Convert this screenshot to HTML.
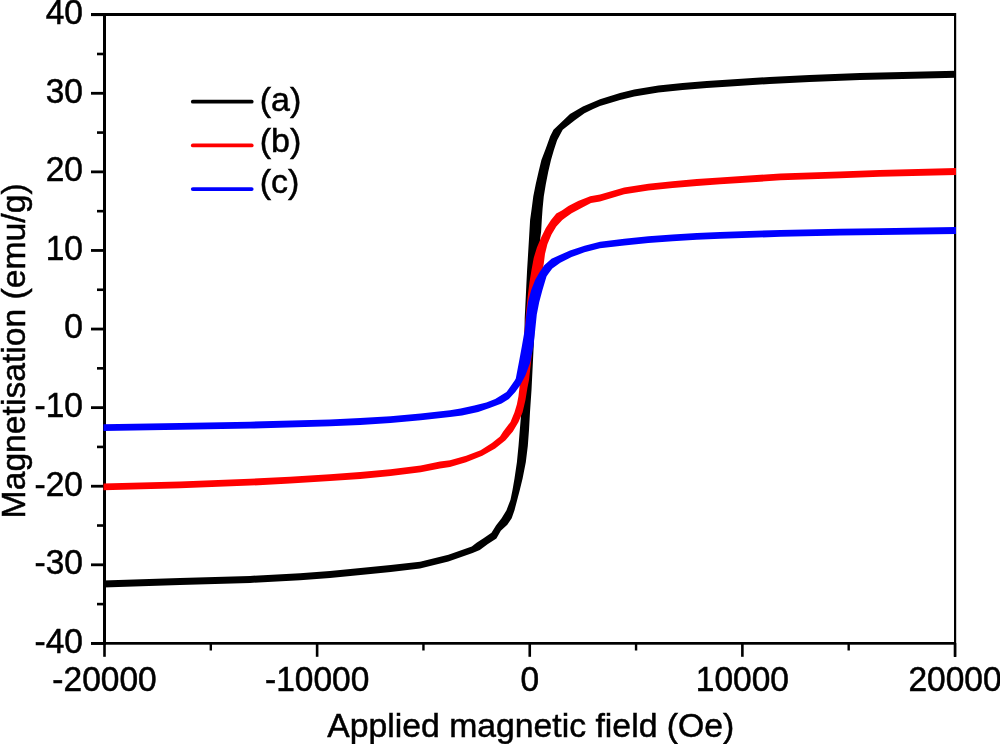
<!DOCTYPE html><html><head><meta charset="utf-8"><title>Magnetisation</title><style>html,body{margin:0;padding:0;background:#fff}svg{display:block}text{font-family:"Liberation Sans",Arial,sans-serif;fill:#000;stroke:#000;stroke-width:0.5px}</style></head><body>
<svg width="1000" height="744" viewBox="0 0 1000 744">
<rect width="1000" height="744" fill="#fff"/>
<g fill="#000">
<rect x="91" y="13" width="865" height="3"/>
<rect x="103" y="13" width="3" height="632"/>
<rect x="954" y="13" width="2.2" height="644"/>
<rect x="91" y="642" width="865" height="2.7"/>
<rect x="91" y="642.00" width="13" height="2.8"/>
<rect x="97" y="602.81" width="7" height="2.6"/>
<rect x="91" y="563.41" width="13" height="2.8"/>
<rect x="97" y="524.22" width="7" height="2.6"/>
<rect x="91" y="484.82" width="13" height="2.8"/>
<rect x="97" y="445.63" width="7" height="2.6"/>
<rect x="91" y="406.24" width="13" height="2.8"/>
<rect x="97" y="367.04" width="7" height="2.6"/>
<rect x="91" y="327.65" width="13" height="2.8"/>
<rect x="97" y="288.46" width="7" height="2.6"/>
<rect x="91" y="249.06" width="13" height="2.8"/>
<rect x="97" y="209.87" width="7" height="2.6"/>
<rect x="91" y="170.47" width="13" height="2.8"/>
<rect x="97" y="131.28" width="7" height="2.6"/>
<rect x="91" y="91.89" width="13" height="2.8"/>
<rect x="97" y="52.69" width="7" height="2.6"/>
<rect x="91" y="13.30" width="13" height="2.8"/>
<rect x="103.20" y="643" width="2.6" height="13.8"/>
<rect x="209.61" y="643" width="2.4" height="7.5"/>
<rect x="315.82" y="643" width="2.6" height="13.8"/>
<rect x="422.24" y="643" width="2.4" height="7.5"/>
<rect x="528.45" y="643" width="2.6" height="13.8"/>
<rect x="634.86" y="643" width="2.4" height="7.5"/>
<rect x="741.08" y="643" width="2.6" height="13.8"/>
<rect x="847.49" y="643" width="2.4" height="7.5"/>
<rect x="953.70" y="643" width="2.6" height="13.8"/>
</g>
<clipPath id="c"><rect x="103.5" y="13" width="852.5" height="632"/></clipPath>
<g clip-path="url(#c)">
<polygon points="103.0,580.6 180.0,578.1 250.0,575.9 300.0,573.3 330.0,571.0 360.5,568.1 390.7,564.9 420.0,561.7 448.4,554.7 471.8,546.5 476.6,542.8 483.9,538.1 491.5,532.7 496.0,525.5 501.6,518.2 506.5,510.2 510.5,499.7 512.5,490.0 514.5,478.4 516.9,462.3 518.5,446.1 519.8,430.0 521.0,415.5 522.5,390.0 524.0,350.0 524.5,330.0 524.7,318.4 525.5,302.3 526.3,286.1 527.1,270.0 527.7,260.3 528.9,240.2 530.1,220.0 531.7,208.4 533.3,196.3 535.7,184.2 538.5,172.1 541.4,160.0 545.8,148.4 550.2,136.3 553.5,129.8 561.9,121.8 570.0,114.1 582.9,106.5 600.0,99.2 620.0,92.9 634.2,89.5 658.4,85.5 682.6,83.0 706.8,81.0 730.0,79.5 769.5,77.0 809.5,75.0 860.0,73.0 957.0,70.8 957.0,77.7 860.0,80.0 809.5,81.9 769.5,84.0 730.0,86.4 706.8,88.0 682.6,90.0 658.4,92.5 634.2,96.4 620.0,100.1 600.0,106.0 592.6,109.3 584.5,113.3 574.8,120.2 562.7,129.8 557.1,140.3 553.9,150.0 551.0,160.0 548.2,172.1 545.8,184.2 543.8,196.3 542.6,208.4 541.8,220.0 541.1,232.1 540.2,238.5 537.0,290.0 534.5,330.0 533.5,350.0 531.5,390.0 530.0,412.0 529.0,430.0 527.8,446.1 525.8,462.3 522.6,478.4 519.8,490.0 517.7,498.1 514.5,510.2 511.7,518.2 507.3,524.7 500.8,530.7 496.4,538.4 487.9,544.0 479.8,550.0 472.6,552.9 448.4,561.4 420.0,568.4 390.7,571.9 360.5,575.1 330.0,578.0 300.0,580.2 250.0,582.9 180.0,585.1 103.0,587.6" fill="#000"/>
<polygon points="103.0,483.4 180.0,481.4 250.0,478.8 290.0,476.8 330.0,474.2 360.2,472.1 390.5,469.2 420.7,465.4 440.0,461.6 450.0,460.2 466.1,455.8 480.6,450.2 491.9,442.9 500.0,436.5 503.2,431.6 510.5,421.9 514.5,412.3 516.9,404.2 518.5,396.1 519.4,388.1 521.0,370.0 523.5,345.0 525.0,325.0 526.3,310.3 527.5,298.2 529.5,282.1 531.5,270.0 533.7,257.9 536.9,247.4 541.0,237.7 545.8,228.1 551.0,220.0 556.3,213.6 561.9,210.4 568.4,206.0 578.1,201.1 590.2,196.3 600.0,194.6 624.2,187.4 648.4,183.8 672.6,181.2 696.8,179.1 720.0,177.5 780.5,173.5 840.0,171.4 879.5,170.0 957.0,168.1 957.0,174.9 879.5,176.8 840.0,178.2 780.5,180.3 720.0,184.3 696.8,185.9 672.6,188.0 648.4,190.6 624.2,194.2 600.0,201.5 591.0,203.1 580.5,208.4 571.6,213.2 566.0,217.3 562.3,220.0 556.3,226.5 551.5,234.5 547.4,244.2 545.0,253.9 543.8,263.5 540.0,285.0 536.0,310.0 533.0,335.0 531.9,354.2 529.0,380.0 527.4,388.1 525.4,400.2 522.6,412.3 518.5,421.9 512.9,431.6 505.5,440.3 495.2,448.5 482.3,455.8 466.1,462.3 450.0,467.1 440.0,468.4 420.7,472.3 390.5,476.1 360.2,478.9 330.0,481.1 290.0,483.6 250.0,485.6 180.0,488.2 103.0,490.3" fill="#ff0000"/>
<polygon points="103.0,424.2 180.0,422.9 250.0,421.7 330.0,419.4 360.2,418.1 390.5,416.2 420.7,413.4 450.0,410.2 460.5,408.6 474.2,405.6 486.3,402.6 495.2,399.0 506.5,392.1 514.5,380.8 515.8,378.4 518.9,362.3 521.9,346.1 524.7,330.0 526.3,314.4 527.9,302.3 531.1,290.2 535.2,279.7 539.4,272.4 544.2,265.2 551.5,258.7 558.7,255.5 570.0,250.6 584.5,245.8 600.0,241.8 624.2,238.7 648.4,236.2 672.6,234.4 696.8,233.0 720.0,232.0 780.5,230.0 840.0,228.8 879.5,228.2 957.0,227.1 957.0,233.9 879.5,235.0 840.0,235.6 780.5,236.8 720.0,238.8 696.8,239.8 672.6,241.2 648.4,243.1 624.2,245.5 600.0,248.2 584.5,252.3 571.6,257.1 560.3,262.7 552.3,268.4 548.2,274.0 546.5,276.5 542.4,290.2 539.2,302.3 536.8,314.4 535.2,330.0 533.5,346.1 530.3,362.3 525.5,375.2 520.5,384.8 515.3,392.0 508.9,399.0 501.6,403.4 490.3,407.8 478.2,411.9 462.1,415.5 450.0,417.1 420.7,420.2 390.5,423.1 360.2,424.9 330.0,426.3 250.0,428.6 180.0,429.8 103.0,431.1" fill="#0000ff"/>
</g>
<line x1="192.8" x2="251.7" y1="101.7" y2="101.7" stroke="#000" stroke-width="3.8" stroke-linecap="round"/>
<text transform="translate(259.70,111.30) scale(1,1.000)" text-anchor="start" font-size="34">(a)</text>
<line x1="192.8" x2="251.7" y1="145.4" y2="145.4" stroke="#ff0000" stroke-width="3.8" stroke-linecap="round"/>
<text transform="translate(259.70,152.20) scale(1,1.000)" text-anchor="start" font-size="34">(b)</text>
<line x1="192.8" x2="251.7" y1="189.1" y2="189.1" stroke="#0000ff" stroke-width="3.8" stroke-linecap="round"/>
<text transform="translate(259.70,193.10) scale(1,1.000)" text-anchor="start" font-size="34">(c)</text>
<text transform="translate(82.90,652.70) scale(1,1.065)" text-anchor="end" font-size="33.5">-40</text>
<text transform="translate(82.90,574.11) scale(1,1.065)" text-anchor="end" font-size="33.5">-30</text>
<text transform="translate(82.90,495.52) scale(1,1.065)" text-anchor="end" font-size="33.5">-20</text>
<text transform="translate(82.90,416.94) scale(1,1.065)" text-anchor="end" font-size="33.5">-10</text>
<text transform="translate(82.90,338.35) scale(1,1.065)" text-anchor="end" font-size="33.5">0</text>
<text transform="translate(82.90,259.76) scale(1,1.065)" text-anchor="end" font-size="33.5">10</text>
<text transform="translate(82.90,181.17) scale(1,1.065)" text-anchor="end" font-size="33.5">20</text>
<text transform="translate(82.90,102.59) scale(1,1.065)" text-anchor="end" font-size="33.5">30</text>
<text transform="translate(82.90,24.00) scale(1,1.065)" text-anchor="end" font-size="33.5">40</text>
<text transform="translate(104.50,691.00) scale(1,1.065)" text-anchor="middle" font-size="33.5">-20000</text>
<text transform="translate(317.12,691.00) scale(1,1.065)" text-anchor="middle" font-size="33.5">-10000</text>
<text transform="translate(529.75,691.00) scale(1,1.065)" text-anchor="middle" font-size="33.5">0</text>
<text transform="translate(742.38,691.00) scale(1,1.065)" text-anchor="middle" font-size="33.5">10000</text>
<text transform="translate(955.00,691.00) scale(1,1.065)" text-anchor="middle" font-size="33.5">20000</text>
<text transform="translate(327.20,736.80) scale(1,1.000)" text-anchor="start" font-size="33.75">Applied magnetic field (Oe)</text>
<text transform="translate(24.6,518.4) rotate(-90)" font-size="33.68">Magnetisation (emu/g)</text>
</svg></body></html>
